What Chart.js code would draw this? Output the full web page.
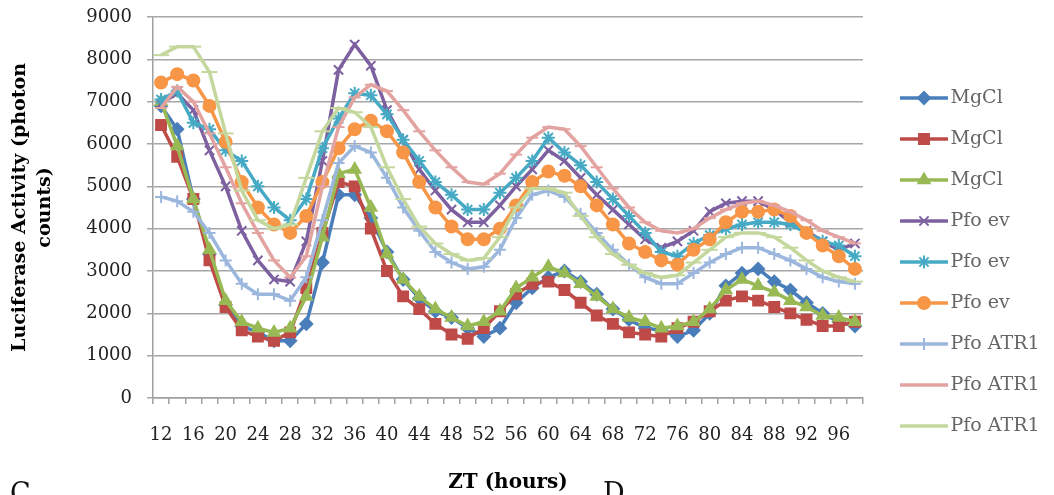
<!DOCTYPE html>
<html>
<head>
<meta charset="utf-8">
<script src="https://cdn.jsdelivr.net/npm/chart.js@4"></script>
<style>
  html, body { margin: 0; padding: 0; background: #fff; overflow: hidden; }
  #wrap { position: relative; width: 1054px; height: 495px; overflow: hidden; }
  .panel { position: absolute; font-family: "DejaVu Serif", serif; font-size: 27px; line-height: 1; color: #111; }
</style>
</head>
<body>
<div id="wrap">
  <canvas id="luc" width="1054" height="495"></canvas>
  <div class="panel" style="left:10px; top:479px;">C</div>
  <div class="panel" style="left:603px; top:479px;">D</div>
</div>
<script>
// ZT hours, one point every 2 h
const zt = [12, 14, 16, 18, 20, 22, 24, 26, 28, 30, 32, 34, 36, 38, 40, 42, 44, 46, 48, 50, 52, 54,
  56, 58, 60, 62, 64, 66, 68, 70, 72, 74, 76, 78, 80, 82, 84, 86, 88, 90, 92, 94, 96, 98];

const mgcl1 = [6900, 6350, 4700, 3400, 2200, 1700, 1550, 1350, 1350, 1750, 3200, 4800, 4800, 4250, 3450, 2800, 2350, 2050, 1900, 1650, 1450, 1650,
  2250, 2600, 2850, 3000, 2750, 2450, 2100, 1850, 1650, 1600, 1450, 1600, 2000, 2650, 2950, 3050, 2750, 2550, 2250, 2000, 1800, 1700];
const mgcl2 = [6450, 5700, 4700, 3250, 2150, 1600, 1450, 1350, 1550, 2600, 3900, 5100, 5000, 4000, 3000, 2400, 2100, 1750, 1500, 1400, 1650, 2050,
  2450, 2700, 2750, 2550, 2250, 1950, 1750, 1550, 1500, 1450, 1650, 1800, 2050, 2300, 2400, 2300, 2150, 2000, 1850, 1700, 1700, 1800];
const mgcl3 = [7000, 5950, 4700, 3500, 2300, 1800, 1650, 1550, 1650, 2400, 3800, 5300, 5400, 4500, 3400, 2800, 2400, 2100, 1900, 1700, 1800, 2050,
  2600, 2850, 3100, 2950, 2700, 2400, 2100, 1900, 1800, 1650, 1700, 1800, 2100, 2550, 2800, 2650, 2500, 2300, 2150, 1950, 1900, 1800];
const pfoEv1 = [6950, 7200, 6800, 5850, 5000, 3950, 3250, 2800, 2750, 3700, 5600, 7750, 8350, 7850, 6800, 6100, 5400, 4900, 4450, 4150, 4150, 4550,
  5000, 5400, 5850, 5600, 5200, 4800, 4450, 4100, 3750, 3550, 3700, 3950, 4400, 4600, 4650, 4650, 4450, 4150, 3950, 3700, 3500, 3650];
const pfoEv2 = [7050, 7250, 6500, 6350, 5850, 5600, 5000, 4500, 4200, 4700, 5900, 6600, 7200, 7150, 6700, 6100, 5600, 5100, 4800, 4450, 4450, 4850,
  5200, 5600, 6150, 5800, 5500, 5100, 4700, 4300, 3900, 3450, 3350, 3650, 3850, 4000, 4100, 4150, 4150, 4100, 3900, 3700, 3600, 3350];
const pfoEv3 = [7450, 7650, 7500, 6900, 6050, 5100, 4500, 4100, 3900, 4300, 5100, 5900, 6350, 6550, 6300, 5800, 5100, 4500, 4050, 3750, 3750, 4000,
  4550, 5100, 5350, 5250, 5000, 4550, 4100, 3650, 3450, 3250, 3150, 3500, 3750, 4150, 4400, 4400, 4450, 4300, 3900, 3600, 3350, 3050];
const pfoAtr1 = [4750, 4650, 4400, 3900, 3250, 2700, 2450, 2450, 2300, 2850, 4200, 5550, 5950, 5800, 5200, 4500, 3950, 3450, 3200, 3050, 3100, 3500,
  4250, 4800, 4900, 4750, 4350, 3900, 3500, 3150, 2850, 2700, 2700, 2950, 3200, 3400, 3550, 3550, 3400, 3250, 3050, 2850, 2750, 2700];
const pfoAtr2 = [6850, 7350, 7000, 6250, 5450, 4600, 3900, 3250, 2850, 3350, 5000, 6400, 7100, 7400, 7250, 6800, 6300, 5850, 5450, 5100, 5050, 5300,
  5750, 6150, 6400, 6350, 5950, 5450, 4950, 4500, 4150, 3950, 3900, 4000, 4250, 4450, 4600, 4650, 4550, 4400, 4200, 3950, 3800, 3650];
const pfoAtr3 = [8100, 8300, 8300, 7700, 6250, 4900, 4200, 4000, 4100, 5200, 6300, 6850, 6750, 6400, 5450, 4700, 4050, 3650, 3400, 3250, 3300, 3800,
  4500, 4950, 4950, 4850, 4300, 3800, 3400, 3150, 2950, 2850, 2900, 3200, 3500, 3800, 3900, 3900, 3800, 3550, 3250, 3000, 2850, 2750];

const seriesNames = ["MgCl", "MgCl", "MgCl", "Pfo ev", "Pfo ev", "Pfo ev", "Pfo ATR1", "Pfo ATR1", "Pfo ATR1"];
const seriesData = [mgcl1, mgcl2, mgcl3, pfoEv1, pfoEv2, pfoEv3, pfoAtr1, pfoAtr2, pfoAtr3];
const seriesColors = ["#4a7ebb", "#be4b48", "#98b954", "#7d60a0", "#46aac5", "#f79646", "#9cb7dd", "#e2a3a1", "#c4d89e"];
const markers = ["rectRot", "rect", "triangle", "crossRot", "star", "circle", "cross", "line", "line"];
const markerSize = [6, 7, 6.5, 6.5, 6.5, 6, 6, 6, 8];

const SERIF = "'DejaVu Serif', serif";
const PLOT_LEFT = 153, PLOT_TOP = 17, PLOT_RIGHT = 863, PLOT_BOTTOM = 398;

function legendIcon(i) {
  const c = document.createElement("canvas");
  c.width = 70;
  c.height = 20;
  const g = c.getContext("2d");
  g.strokeStyle = seriesColors[i];
  g.fillStyle = seriesColors[i];
  g.lineWidth = 3.5;
  g.beginPath();
  g.moveTo(22, 10);
  g.lineTo(70, 10);
  g.stroke();
  g.lineWidth = 2;
  Chart.helpers.drawPoint(g, { pointStyle: markers[i], radius: markerSize[i], borderWidth: 2, rotation: 0 }, 46, 10);
  return c;
}

// legend box takes exactly the strip right of the plot
const legendWidth = {
  id: "legendWidth",
  beforeUpdate(chart) {
    const lg = chart.legend;
    if (lg && !lg._fixedWidth) {
      const fit = lg.fit;
      lg.fit = function () {
        fit.call(this);
        this.width = chart.width - PLOT_RIGHT;
      };
      lg._fixedWidth = true;
    }
  },
};

const datasets = seriesData.map((d, i) => ({
  label: seriesNames[i],
  data: d,
  borderColor: seriesColors[i],
  backgroundColor: seriesColors[i],
  borderWidth: 3.5,
  pointStyle: markers[i],
  pointRadius: markerSize[i],
  pointBorderWidth: 2,
  pointBackgroundColor: seriesColors[i],
  pointBorderColor: seriesColors[i],
  tension: 0,
  order: 9 - i,
}));

new Chart(document.getElementById("luc"), {
  type: "line",
  data: { labels: zt, datasets },
  options: {
    responsive: false,
    animation: false,
    layout: { padding: { top: PLOT_TOP, right: 0, bottom: 0, left: 0 } },
    plugins: {
      tooltip: { enabled: false },
      legend: {
        position: "right",
        align: "center",
        title: { display: true, text: "", font: { size: 10 }, padding: 0 },
        labels: {
          usePointStyle: true,
          pointStyleWidth: 56,
          padding: 22,
          color: "#000",
          font: { family: SERIF, size: 19 },
          generateLabels: (chart) =>
            chart.data.datasets.map((ds, i) => ({
              text: ds.label,
              pointStyle: legendIcon(i),
              fillStyle: seriesColors[i],
              strokeStyle: seriesColors[i],
              lineWidth: 0,
              datasetIndex: i,
              hidden: false,
            })),
        },
      },
    },
    scales: {
      x: {
        type: "category",
        offset: true,
        afterFit: (s) => { s.height = 495 - PLOT_BOTTOM; },
        grid: { offset: true, drawOnChartArea: false, drawTicks: true, tickLength: 6, color: "#a0a0a0", lineWidth: 1.5 },
        border: { display: true, color: "#a0a0a0", width: 1.5 },
        ticks: {
          autoSkip: false,
          maxRotation: 0,
          padding: 21,
          color: "#222",
          font: { family: SERIF, size: 18 },
          callback: function (v, i) { return i % 2 === 0 ? this.getLabelForValue(v) : ""; },
        },
        title: {
          display: true,
          text: "ZT (hours)",
          color: "#000",
          font: { family: SERIF, size: 20, weight: "bold" },
          padding: { top: 0, bottom: 0 },
        },
      },
      y: {
        min: 0,
        max: 9000,
        afterFit: (s) => {
          s.width = PLOT_LEFT;
          s.paddingTop = 0;
          s.paddingBottom = 0;
        },
        grid: { color: "#a6a6a6", lineWidth: 1.5, tickLength: 6 },
        border: { display: true, color: "#a0a0a0", width: 1.5 },
        ticks: {
          stepSize: 1000,
          padding: 15,
          color: "#222",
          font: { family: SERIF, size: 18 },
          callback: (v) => String(v),
        },
        title: {
          display: true,
          text: ["Luciferase Activity (photon", "counts)"],
          color: "#000",
          font: { family: SERIF, size: 19, weight: "bold", lineHeight: "25px" },
          padding: { top: 8, bottom: 0 },
        },
      },
    },
  },
  plugins: [legendWidth],
});
</script>
</body>
</html>
